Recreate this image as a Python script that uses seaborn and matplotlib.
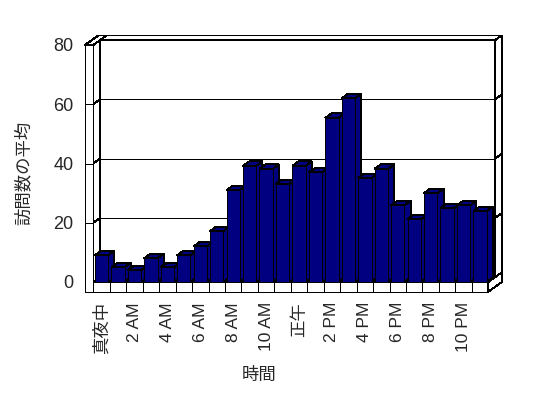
import matplotlib
matplotlib.use("Agg")
import matplotlib.pyplot as plt
from matplotlib.patches import Polygon
import seaborn as sns
import pandas as pd

# ---- data ----
categories = ["真夜中", "1 AM", "2 AM", "3 AM", "4 AM", "5 AM", "6 AM", "7 AM",
              "8 AM", "9 AM", "10 AM", "11 AM", "正午", "1 PM", "2 PM", "3 PM",
              "4 PM", "5 PM", "6 PM", "7 PM", "8 PM", "9 PM", "10 PM", "11 PM"]
values = [9.0, 5.0, 4.0, 8.0, 5.0, 9.0, 12.0, 17.2, 31.0, 39.2, 38.2, 33.1,
          39.2, 37.0, 55.4, 62.0, 35.1, 38.2, 25.9, 21.2, 30.0, 24.9, 25.9, 23.9]
y_ticks = [0, 20, 40, 60, 80]
x_label = "時間"
y_label = "訪問数の平均"

df = pd.DataFrame({"hour": categories, "visits": values})

sns.set_style("white")
plt.rcParams["font.family"] = ["Liberation Sans", "Noto Sans CJK JP", "DejaVu Sans"]

BAR = "#000080"
LW = 0.72

fig = plt.figure(figsize=(5.48, 3.98), dpi=100)
ax = fig.add_axes([93.3 / 548, 1 - 282 / 398, 395 / 548, 237 / 398])
sns.barplot(data=df, x="hour", y="visits", color=BAR, saturation=1, width=0.81,
            edgecolor="black", linewidth=LW, ax=ax, order=categories)

n = len(categories)
ax.set_xlim(-0.5, n - 0.5)
ax.set_ylim(y_ticks[0], y_ticks[-1])
for s in ax.spines.values():
    s.set_visible(False)
ax.patch.set_visible(False)
ax.set_xlabel("")
ax.set_ylabel("")

# ---- pseudo-3D geometry (in data units) ----
ddx, ddy = 7 / 16.458, 5 / 2.9625      # depth offset for unit depth
tw = 8.3 / 16.458                        # left wall thickness
fh = 9.7 / 2.9625                        # floor thickness
tb = 0.9                                 # back wall thickness (depth units)
bd = 0.88                                # bar depth
xl, xr = -0.5, n - 0.5
ytop = y_ticks[-1]


def P(x, y, z):
    return (x + z * ddx, y + z * ddy)


def poly(pts, z, fc="white"):
    p = Polygon([P(*q) for q in pts], closed=True, facecolor=fc, edgecolor="black",
                linewidth=LW, zorder=z, clip_on=False, antialiased=False)
    ax.add_patch(p)


def line(a, b, z):
    (x0, y0), (x1, y1) = P(*a), P(*b)
    ax.plot([x0, x1], [y0, y1], color="black", lw=LW, zorder=z, clip_on=False,
            antialiased=False, solid_capstyle="butt")


# back wall
poly([(xl, 0, 1), (xr, 0, 1), (xr, ytop, 1), (xl, ytop, 1)], 1)
poly([(xl - tw, ytop, 1), (xr, ytop, 1), (xr, ytop, 1 + tb), (xl - tw, ytop, 1 + tb)], 1)
poly([(xr, 0, 1), (xr, 0, 1 + tb), (xr, ytop, 1 + tb), (xr, ytop, 1)], 1)
for v in y_ticks[1:-1]:
    line((xl, v, 1), (xr, v, 1), 1.1)
    line((xr, v, 1), (xr, v, 1 + tb), 1.1)
# floor top and left wall inner face
poly([(xl, 0, 0), (xr, 0, 0), (xr, 0, 1), (xl, 0, 1)], 1.2)
poly([(xl, 0, 0), (xl, 0, 1), (xl, ytop, 1), (xl, ytop, 0)], 1.2)
for v in y_ticks[1:-1]:
    line((xl, v, 0), (xl, v, 1), 1.3)

# bars: side + top faces derived from seaborn's bars
for i, bar in enumerate(ax.patches[:n]):
    x0 = bar.get_x()
    x1 = x0 + bar.get_width()
    h = bar.get_height()
    zb = 3 + i * 0.01
    bar.set_zorder(zb + 0.005)
    bar.set_antialiased(False)
    poly([(x1, 0, 0), (x1, 0, bd), (x1, h, bd), (x1, h, 0)], zb, BAR)
    poly([(x0, h, 0), (x1, h, 0), (x1, h, bd), (x0, h, bd)], zb, BAR)

# front slabs: left wall and floor
poly([(xl - tw, -fh, 0), (xl, -fh, 0), (xl, ytop, 0), (xl - tw, ytop, 0)], 5)
poly([(xl - tw, ytop, 0), (xl, ytop, 0), (xl, ytop, 1 + tb), (xl - tw, ytop, 1 + tb)], 5)
poly([(xl, -fh, 0), (xr, -fh, 0), (xr, 0, 0), (xl, 0, 0)], 5)
poly([(xr, -fh, 0), (xr, -fh, 1 + tb), (xr, 0, 1 + tb), (xr, 0, 0)], 5)
for v in y_ticks[1:-1]:
    line((xl - tw, v, 0), (xl, v, 0), 5.1)
for k in range(1, n):
    line((k - 0.5, -fh, 0), (k - 0.5, 0, 0), 5.1)

# ticks / labels
ax.set_yticks(y_ticks)
ax.set_yticklabels([str(t) for t in y_ticks], fontsize=13)
ax.set_xticks(range(0, n, 2))
ax.set_xticklabels(categories[::2], rotation=90, fontsize=12.5,
                   family=["Liberation Sans", "Noto Sans CJK JP"])
ax.tick_params(axis="y", length=0, pad=14.4)
ax.tick_params(axis="x", length=0, pad=14.4)

fig.text(24 / 548, 1 - 173 / 398, y_label, rotation=90, ha="center", va="center",
         fontsize=12.5, family=["Noto Sans CJK JP"])
fig.text(259 / 548, 1 - 375 / 398, x_label, ha="center", va="center",
         fontsize=12.5, family=["Noto Sans CJK JP"])

fig.savefig("out.png", dpi=100, facecolor="white")
